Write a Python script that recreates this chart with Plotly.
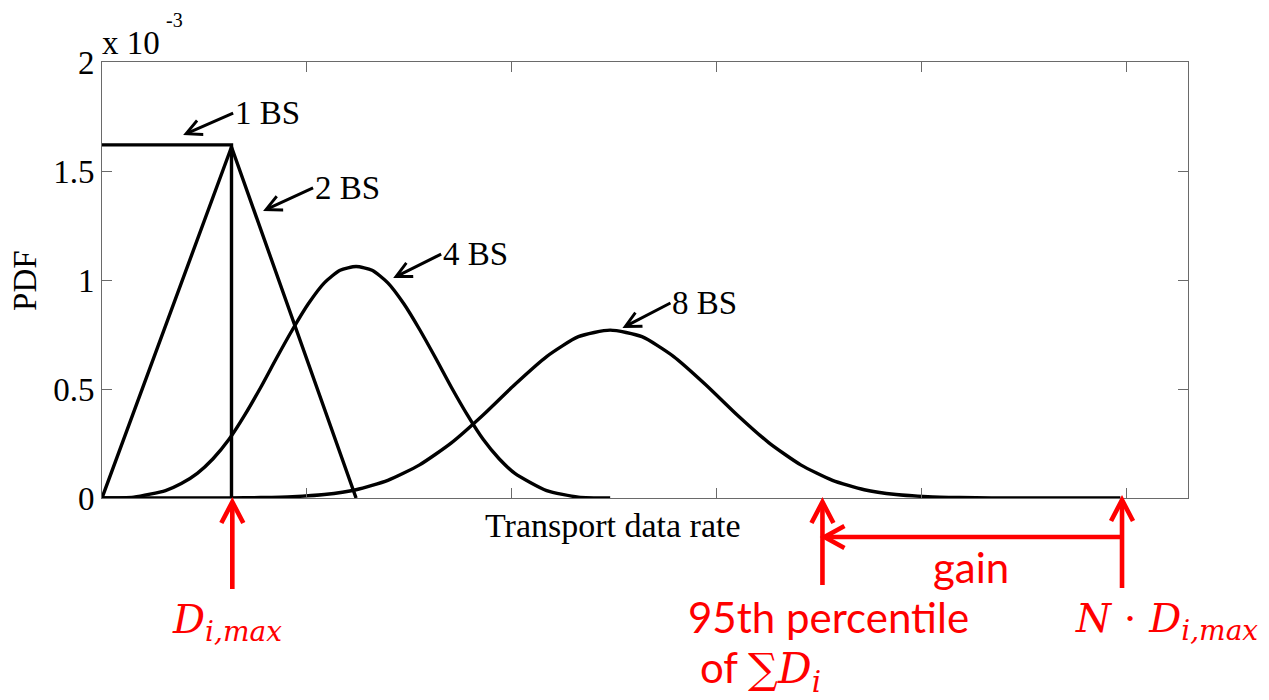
import plotly.graph_objects as go

# ---- data ----
x_1bs = [0, 632, 632]
y_1bs = [1.62, 1.62, 0]

x_2bs = [0, 632, 1240]
y_2bs = [0, 1.61, 0]

x_4bs = [0, 155, 310, 387, 465, 542, 620, 697, 775, 852, 930, 1007, 1085, 1162, 1240,
         1318, 1395, 1473, 1550, 1628, 1705, 1783, 1860, 1938, 2015, 2170, 2325, 2480]
y_4bs = [0, 0.004, 0.034, 0.066, 0.113, 0.180, 0.269, 0.381, 0.508, 0.642, 0.773, 0.891, 0.987, 1.045, 1.062,
         1.045, 0.987, 0.891, 0.773, 0.642, 0.508, 0.381, 0.269, 0.180, 0.113, 0.034, 0.004, 0]

x_8bs = [0, 310, 620, 775, 930, 1085, 1240, 1395, 1550, 1705, 1860, 2015, 2170, 2325, 2480,
         2635, 2790, 2945, 3100, 3255, 3410, 3565, 3720, 3875, 4030, 4185, 4340, 4650, 4970]
y_8bs = [0, 0, 0, 0.002, 0.006, 0.016, 0.038, 0.081, 0.152, 0.253, 0.381, 0.521, 0.649, 0.740, 0.770,
         0.740, 0.649, 0.521, 0.381, 0.253, 0.152, 0.081, 0.038, 0.016, 0.006, 0.002, 0, 0, 0]

x_tickvals = [0, 1000, 2000, 3000, 4000, 5000]
y_tickvals = [0, 0.5, 1, 1.5, 2]
y_ticktext = ["0", "0.5", "1", "1.5", "2"]

D_MAX = 636        # D_i,max marker
P95 = 3516         # 95th percentile of sum D_i
N_D_MAX = 4978     # N * D_i,max

X_MAX = 5300
Y_MAX = 2

SERIF = "Liberation Serif"
SANS = "Lato"
MATH = "DejaVu Serif"
RED = "#ff0000"

fig = go.Figure()
for xs, ys, shp in [(x_1bs, y_1bs, "linear"), (x_2bs, y_2bs, "linear"),
                    (x_4bs, y_4bs, "spline"), (x_8bs, y_8bs, "spline")]:
    fig.add_trace(go.Scatter(x=xs, y=ys, mode="lines",
                             line=dict(color="black", width=3.4, shape=shp, smoothing=0.6),
                             showlegend=False, hoverinfo="skip"))

axis_common = dict(showline=True, linecolor="#6a6a6a", linewidth=1, mirror="ticks",
                   ticks="inside", ticklen=10, tickcolor="#6a6a6a", tickwidth=1,
                   showgrid=False, zeroline=False)

fig.update_xaxes(range=[0, X_MAX], tickvals=x_tickvals, showticklabels=False, **axis_common)
fig.update_yaxes(range=[0, Y_MAX], tickvals=y_tickvals, ticktext=y_ticktext,
                 tickfont=dict(family=SERIF, size=33, color="black"), **axis_common)

ann = []
# curve labels with black arrows
for label, hx, hy, ax, ay in [("1 BS", 396, 1.665, 50, -22),
                              ("2 BS", 786, 1.317, 50, -23),
                              ("4 BS", 1421, 1.009, 48, -24),
                              ("8 BS", 2540, 0.780, 48, -25)]:
    ann.append(dict(x=hx, y=hy, xref="x", yref="y", ax=ax, ay=ay, text=label,
                    xanchor="left", yanchor="middle", showarrow=True,
                    arrowhead=5, arrowsize=1.0, arrowwidth=3, arrowcolor="black",
                    font=dict(family=SERIF, size=33, color="black")))

# exponent label
ann.append(dict(x=-2 / 1086, y=(498 - 43) / 436, xref="paper", yref="paper", xanchor="left",
                yanchor="middle", text="x 10", showarrow=False,
                font=dict(family=SERIF, size=33, color="black")))
ann.append(dict(x=(164 - 102) / 1086, y=(498 - 20) / 436, xref="paper", yref="paper", xanchor="left",
                yanchor="middle", text="-3", showarrow=False,
                font=dict(family=SERIF, size=20, color="black")))
# axis titles
ann.append(dict(x=-0.071, y=0.5, xref="paper", yref="paper", xanchor="center", yanchor="middle",
                text="PDF", textangle=-90, showarrow=False,
                font=dict(family=SERIF, size=33, color="black")))
ann.append(dict(x=0.4705, y=-0.064, xref="paper", yref="paper", xanchor="center", yanchor="middle",
                text="Transport data rate", showarrow=False,
                font=dict(family=SERIF, size=34, color="black")))

# red texts
ann.append(dict(x=(170 - 102) / 1086, y=(498 - 622) / 436, xref="paper", yref="paper",
                xanchor="left", yanchor="middle", showarrow=False,
                text="<i>D<sub>i,max</sub></i>", font=dict(family=MATH, size=40, color=RED)))
ann.append(dict(x=(1073 - 102) / 1086, y=(498 - 621) / 436, xref="paper", yref="paper",
                xanchor="left", yanchor="middle", showarrow=False,
                text="<i>N</i> · <i>D<sub>i,max</sub></i>", font=dict(family=MATH, size=40, color=RED)))
ann.append(dict(x=(931 - 102) / 1086, y=(498 - 567) / 436, xref="paper", yref="paper",
                xanchor="left", yanchor="middle", showarrow=False,
                text="gain", font=dict(family=SANS, size=42, color=RED)))
ann.append(dict(x=(686 - 102) / 1086, y=(498 - 617) / 436, xref="paper", yref="paper",
                xanchor="left", yanchor="middle", showarrow=False,
                text="95th percentile", font=dict(family=SANS, size=42, color=RED)))
ann.append(dict(x=(698 - 102) / 1086, y=(498 - 670) / 436, xref="paper", yref="paper",
                xanchor="left", yanchor="middle", showarrow=False,
                text="of <span style=\"font-family:'DejaVu Serif'\">∑<i>D<sub>i</sub></i></span>",
                font=dict(family=SANS, size=42, color=RED)))

# red arrows as shapes (stems + chevron heads), anchored at the marker values
shapes = []
red_line = dict(color=RED, width=4.6)
for xv, tip, bottom in [(D_MAX, -4, -91), (P95, -4, -87), (N_D_MAX, -2, -90)]:
    xf = xv / X_MAX
    shapes.append(dict(type="line", xref="paper", yref="paper", x0=xf, x1=xf,
                       ysizemode="pixel", yanchor=0, y0=tip - 2, y1=bottom, line=red_line))
    shapes.append(dict(type="path", xref="paper", yref="paper", xsizemode="pixel", ysizemode="pixel",
                       xanchor=xf, yanchor=0,
                       path=f"M-11,{tip - 21} L0,{tip} L11,{tip - 21}", line=red_line))
# gain arrow (horizontal, pointing to the 95th percentile)
shapes.append(dict(type="line", xref="paper", yref="paper", x0=P95 / X_MAX + 3 / 1086, x1=N_D_MAX / X_MAX,
                   ysizemode="pixel", yanchor=0, y0=-39, y1=-39, line=red_line))
shapes.append(dict(type="path", xref="paper", yref="paper", xsizemode="pixel", ysizemode="pixel",
                   xanchor=P95 / X_MAX, yanchor=0,
                   path="M22,-28 L2,-39 L22,-50", line=red_line))

fig.update_layout(width=1269, height=700, margin=dict(l=102, r=81, t=62, b=202),
                  paper_bgcolor="white", plot_bgcolor="white", annotations=ann, shapes=shapes)

fig.write_html("out.html")
